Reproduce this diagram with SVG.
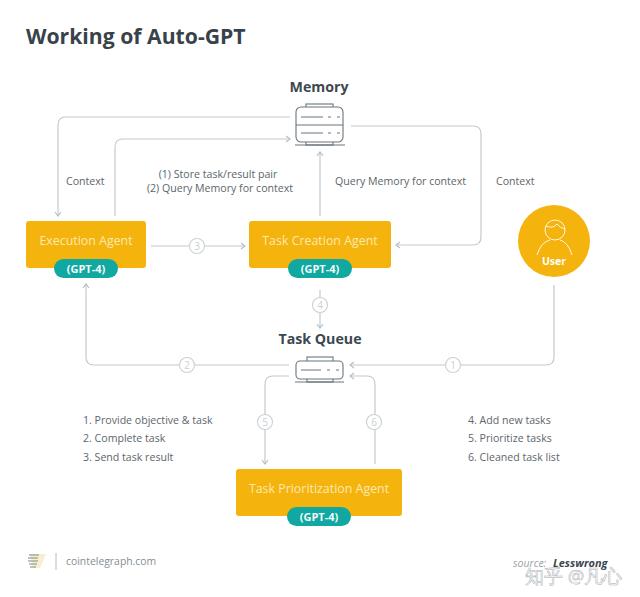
<svg xmlns="http://www.w3.org/2000/svg" width="640" height="597" viewBox="0 0 640 597">
<defs>
<marker id="arr" markerWidth="8" markerHeight="8" refX="6" refY="4" orient="auto" markerUnits="userSpaceOnUse"><path d="M2 1 L6 4 L2 7" fill="none" stroke="#b4bdc2" stroke-width="1.1"/></marker>
</defs>
<style>
text{font-family:"Open Sans","Noto Sans",sans-serif}
.c{fill:none;stroke:#c2cacd;stroke-width:1.2}
.a{marker-end:url(#arr)}
.box{fill:#f5b30e}
.pill{fill:#10a8a0}
.t{fill:#fde9b0;font-size:12.4px;text-anchor:middle}
.g{fill:#f2fbfa;font-size:11px;font-weight:700;text-anchor:middle}
.l{fill:#5c666c;font-size:10.6px}
.m{text-anchor:middle}
.h{fill:#3c4850;font-size:14.2px;font-weight:700;text-anchor:middle}
.n{fill:#fff;stroke:#c9d0d3;stroke-width:1.1}
.nt{fill:#c9d0d3;font-size:10px;text-anchor:middle}
.i{fill:#fff;stroke:#69757b;stroke-width:1.1}
.il{fill:none;stroke:#69757b;stroke-width:1}
</style>
<rect width="640" height="597" fill="#fff"/>
<text x="26" y="44" font-size="21.2" font-weight="700" fill="#37424a">Working of Auto-GPT</text>

<g id="connectors">
<path class="c a" d="M290 117 H66 Q58 117 58 125 V216"/>
<path class="c a" d="M115 216 V147 Q115 139 123 139 H290"/>
<path class="c a" d="M320 216 V152"/>
<path class="c a" d="M351 126 H473 Q481 126 481 134 V237 Q481 245 473 245 H396"/>
<path class="c a" d="M151 246 H245"/>
<path class="c a" d="M320 290 V328"/>
<path class="c a" d="M289 365 H94 Q86 365 86 357 V284"/>
<path class="c a" d="M554 285 V357 Q554 365 546 365 H350"/>
<path class="c a" d="M289 376 H273 Q265 376 265 384 V464"/>
<path class="c a" d="M375 464 V384 Q375 376 367 376 H350"/>
<circle class="n" cx="197" cy="246" r="7.5"/><text class="nt" x="197" y="250">3</text>
<circle class="n" cx="320" cy="305" r="7.5"/><text class="nt" x="320" y="309">4</text>
<circle class="n" cx="187" cy="365" r="7.5"/><text class="nt" x="187" y="369">2</text>
<circle class="n" cx="453" cy="365" r="7.5"/><text class="nt" x="453" y="369">1</text>
<circle class="n" cx="265" cy="422" r="7.5"/><text class="nt" x="265" y="426">5</text>
<circle class="n" cx="374" cy="422" r="7.5"/><text class="nt" x="374" y="426">6</text>
</g>

<g id="memory">
<text class="h" x="319" y="92">Memory</text>
<rect class="i" x="306" y="104" width="27" height="6"/>
<rect class="i" x="306" y="139" width="27" height="6"/>
<rect class="i" x="296" y="107" width="47" height="35" rx="5"/>
<path class="il" d="M296 125 H343 M301 117 H323 M328 117 H331 M337 117 H340 M301 133 H323 M328 133 H331 M337 133 H340 M295 145 H345"/>
</g>

<g id="execution-agent">
<rect class="box" x="26" y="221" width="120" height="47" rx="3"/>
<text class="t" x="86" y="245">Execution Agent</text>
<rect class="pill" x="54" y="259" width="64" height="19" rx="9.5"/>
<text class="g" x="86" y="273">(GPT-4)</text>
</g>

<g id="task-creation-agent">
<rect class="box" x="249" y="221" width="142" height="47" rx="3"/>
<text class="t" x="320" y="245">Task Creation Agent</text>
<rect class="pill" x="288" y="259" width="64" height="19" rx="9.5"/>
<text class="g" x="320" y="273">(GPT-4)</text>
</g>

<g id="user">
<circle cx="554" cy="241" r="36" fill="#f5b30e"/>
<circle cx="555" cy="230" r="10" fill="none" stroke="#fff8e0" stroke-width="1"/>
<path d="M546 226 Q553 229 557 224 Q560 228 565 229 M537 255 Q541 242 550 240 M572 255 Q568 242 560 240" fill="none" stroke="#fff8e0" stroke-width="1"/>
<text x="554" y="265" fill="#fff" font-size="10.5" font-weight="700" text-anchor="middle">User</text>
</g>

<g id="task-queue">
<text class="h" x="320" y="344">Task Queue</text>
<rect class="i" x="307" y="357" width="26" height="5"/>
<rect class="i" x="307" y="378" width="26" height="4"/>
<rect class="i" x="296" y="361" width="47" height="18" rx="4"/>
<path class="il" d="M301 370 H321 M327 370 H330 M336 370 H339 M295 382 H344"/>
</g>

<g id="task-prioritization-agent">
<rect class="box" x="236" y="469" width="166" height="47" rx="3"/>
<text class="t" x="319" y="493">Task Prioritization Agent</text>
<rect class="pill" x="287" y="507" width="64" height="19" rx="9.5"/>
<text class="g" x="319" y="521">(GPT-4)</text>
</g>

<g id="labels">
<text class="l" x="66" y="185">Context</text>
<text class="l m" x="218" y="178">(1) Store task/result pair</text>
<text class="l m" x="220" y="192">(2) Query Memory for context</text>
<text class="l" x="335" y="185">Query Memory for context</text>
<text class="l" x="496" y="185">Context</text>
<text class="l" x="83" y="424">1. Provide objective &amp; task</text>
<text class="l" x="83" y="442">2. Complete task</text>
<text class="l" x="83" y="461">3. Send task result</text>
<text class="l" x="468" y="424">4. Add new tasks</text>
<text class="l" x="468" y="442">5. Prioritize tasks</text>
<text class="l" x="468" y="461">6. Cleaned task list</text>
</g>

<g id="footer">
<path d="M30 554 H46 L40 568 H33 Z" fill="#f8efcf"/>
<path d="M29 555 H39 M28 558 H38 M28 561 H38 M29 564 H37 M30 567 H36" fill="none" stroke="#7c868b" stroke-width="1"/>
<path d="M56 553 V570" stroke="#b5bcc0" stroke-width="1"/>
<text x="66" y="565" font-size="10.4" fill="#858e93" font-family="Roboto,sans-serif">cointelegraph.com</text>
<text x="513" y="567" font-size="10.5" fill="#9aa1a5" font-style="italic">source:</text>
<text x="553" y="567" font-size="11" fill="#3a4650" font-style="italic" font-weight="700">Lesswrong</text>
<text x="525" y="583" font-size="18.5" fill="#fff" fill-opacity="0.55" stroke="#a8aeb2" stroke-width="0.5" font-family="'Noto Sans CJK SC','Noto Sans',sans-serif">知乎 @凡心</text>
</g>
</svg>
